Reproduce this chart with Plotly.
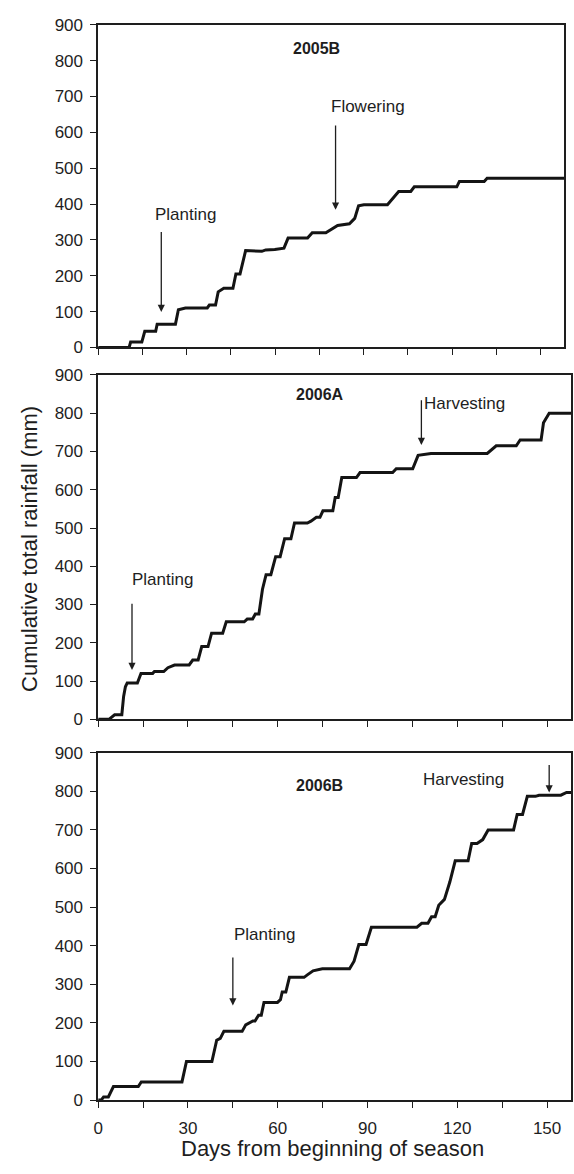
import plotly.graph_objects as go

# ---------------- data ----------------
days_2005B = [0, 10.5, 11, 14.8, 15.8, 19.5, 20, 26.2, 27.2, 29.6, 37, 37.7, 39.8, 40.7,
              42.6, 45.7, 46.7, 48.1, 50, 55.5, 56.8, 59.9, 63, 64.4, 71, 72.6, 77.2, 79,
              81.2, 85.2, 87, 88.3, 90.1, 98.1, 101.9, 106, 107.2, 121.6, 122.5, 130.9,
              131.9, 158]
rain_2005B = [0, 0, 15, 15, 45, 45, 65, 65, 105, 110, 110, 118, 118, 155, 165, 165, 205,
              205, 270, 268, 272, 273, 277, 305, 305, 320, 320, 330, 340, 345, 360, 395,
              398, 398, 435, 435, 448, 448, 463, 463, 472, 472]

days_2006A = [0, 3.6, 5.5, 7.9, 8.5, 9.1, 9.7, 13.1, 14.3, 18.2, 18.8, 21.9, 23.3, 25.5,
              30.4, 31.6, 33.4, 34.6, 36.7, 37.9, 41.6, 42.8, 48.8, 49.8, 51.6, 52.5,
              53.7, 54.9, 56.1, 57.7, 59.3, 60.8, 62.3, 64.4, 65.6, 69.9, 71.1, 72.9,
              74.1, 75.1, 78.4, 79.2, 80.2, 81.4, 86.3, 87.5, 98.4, 99.6, 105.1, 106.9,
              111.2, 130, 133, 139.7, 141, 148, 148.8, 150.7, 158]
rain_2006A = [0, 0, 12, 12, 60, 85, 95, 95, 120, 120, 125, 125, 135, 142, 142, 155, 155,
              190, 190, 225, 225, 255, 255, 262, 262, 275, 275, 340, 378, 378, 425, 425,
              472, 472, 513, 513, 518, 528, 528, 545, 545, 580, 580, 632, 632, 645, 645,
              655, 655, 690, 695, 695, 715, 715, 730, 730, 775, 800, 800]

days_2006B = [0, 1, 1.8, 3.4, 5.1, 13.4, 14.4, 28, 29.5, 38, 39.6, 40.8, 42, 48.1, 49.3,
              51.7, 52.4, 53.6, 54.5, 55.4, 59.9, 60.9, 61.5, 62.7, 63.9, 68.8, 70, 71.8,
              74.9, 84, 85.5, 87.1, 89.5, 91.3, 106.5, 108.1, 110.2, 111.4, 112.6, 113.8,
              115.7, 117.5, 119.3, 123.6, 124.8, 126.6, 128.5, 130.3, 138.8, 140, 141.8,
              143.4, 146.1, 147.3, 154.6, 156.5, 158]
rain_2006B = [0, 0, 8, 8, 35, 35, 47, 47, 100, 100, 155, 160, 178, 178, 195, 205, 205, 220,
              220, 253, 253, 260, 280, 280, 318, 318, 325, 335, 340, 340, 360, 403, 403,
              448, 448, 458, 458, 475, 475, 505, 520, 565, 620, 620, 665, 665, 675, 700,
              700, 740, 740, 787, 787, 790, 790, 797, 797]

season_labels = ["2005B", "2006A", "2006B"]
x_tick_vals = [0, 15, 30, 45, 60, 75, 90, 105, 120, 135, 150]
x_tick_text = ["0", "", "30", "", "60", "", "90", "", "120", "", "150"]
y_tick_vals = [0, 100, 200, 300, 400, 500, 600, 700, 800, 900]

# stage annotations
stage_labels = ["Planting", "Flowering", "Planting", "Harvesting", "Planting", "Harvesting"]
stage_panel = [0, 0, 1, 1, 2, 2]
stage_text_x = [29.5, 91.5, 21.5, 122.5, 55.5, 122]
stage_text_y = [370, 672, 365, 825, 429, 830]
stage_arrow_x = [21.4, 80.5, 11.3, 108, 45, 150.7]
stage_arrow_tail = [326, 623, 306, 838, 373, 872]
stage_arrow_head = [99, 384, 129, 717, 245, 797]

# ---------------- layout geometry ----------------
W, H = 574, 1174
FONT = "Liberation Sans, Arial, Helvetica, sans-serif"
INK = "#1e1e1e"

def px_x(a, b):
    return [a / W, b / W]

def px_y(top, bottom):
    return [1 - bottom / H, 1 - top / H]

x_domains = [px_x(94, 564), px_x(94, 571), px_x(94, 571)]
y_domains = [px_y(16, 344), px_y(372, 722), px_y(756, 1109)]

fig = go.Figure()
series = [(days_2005B, rain_2005B), (days_2006A, rain_2006A), (days_2006B, rain_2006B)]
for i, (d, r) in enumerate(series):
    sfx = "" if i == 0 else str(i + 1)
    fig.add_trace(go.Scatter(x=d, y=r, mode="lines",
                             line=dict(color="#141414", width=3),
                             xaxis="x" + sfx, yaxis="y" + sfx, showlegend=False,
                             hoverinfo="skip"))

layout = dict(width=W, height=H, margin=dict(l=0, r=0, t=0, b=0),
              paper_bgcolor="white", plot_bgcolor="white",
              font=dict(family=FONT, color=INK, size=16), showlegend=False)

for i in range(3):
    sfx = "" if i == 0 else str(i + 1)
    last = i == 2
    layout["xaxis" + sfx] = dict(
        domain=x_domains[i], anchor="y" + sfx, range=[0, 158],
        tickmode="array", tickvals=x_tick_vals,
        ticktext=x_tick_text if last else [""] * len(x_tick_vals),
        showticklabels=last, ticks="outside", ticklen=6, tickwidth=1.2,
        tickcolor=INK, showline=True, linecolor=INK, linewidth=1.5, mirror=True,
        showgrid=False, zeroline=False, tickfont=dict(size=17, family=FONT, color=INK),
        ticklabelstandoff=6)
    layout["yaxis" + sfx] = dict(
        domain=y_domains[i], anchor="x" + sfx, range=[0, 900],
        tickmode="array", tickvals=y_tick_vals, ticks="outside", ticklen=6,
        tickwidth=1.2, tickcolor=INK, showline=True, linecolor=INK, linewidth=1.5,
        mirror=True, showgrid=False, zeroline=False,
        tickfont=dict(size=17, family=FONT, color=INK), ticklabelstandoff=4)

annotations = []
title_y = [835, 849, 815]
for i, lab in enumerate(season_labels):
    sfx = "" if i == 0 else str(i + 1)
    annotations.append(dict(x=74, y=title_y[i], xref="x" + sfx, yref="y" + sfx,
                            text="<b>" + lab + "</b>", showarrow=False,
                            font=dict(size=16, family=FONT, color=INK)))

for k, lab in enumerate(stage_labels):
    p = stage_panel[k]
    sfx = "" if p == 0 else str(p + 1)
    annotations.append(dict(x=stage_text_x[k], y=stage_text_y[k], xref="x" + sfx,
                            yref="y" + sfx, text=lab, showarrow=False,
                            font=dict(size=17, family=FONT, color=INK)))
    annotations.append(dict(x=stage_arrow_x[k], y=stage_arrow_head[k],
                            ax=stage_arrow_x[k], ay=stage_arrow_tail[k],
                            xref="x" + sfx, yref="y" + sfx,
                            axref="x" + sfx, ayref="y" + sfx, text="",
                            showarrow=True, arrowhead=2, arrowsize=1.1,
                            arrowwidth=1.3, arrowcolor=INK, standoff=0))

annotations.append(dict(x=24 / W, y=1 - 549 / H, xref="paper", yref="paper",
                        xanchor="center", yanchor="middle",
                        text="Cumulative total rainfall (mm)", textangle=-90,
                        showarrow=False, font=dict(size=22, family=FONT, color=INK)))
annotations.append(dict(x=330 / W, y=1 - 1158 / H, xref="paper", yref="paper",
                        xanchor="center", yanchor="middle",
                        text="Days from beginning of season", showarrow=False,
                        font=dict(size=22, family=FONT, color=INK)))
layout["annotations"] = annotations

fig.update_layout(**layout)
fig.write_html("out.html")
